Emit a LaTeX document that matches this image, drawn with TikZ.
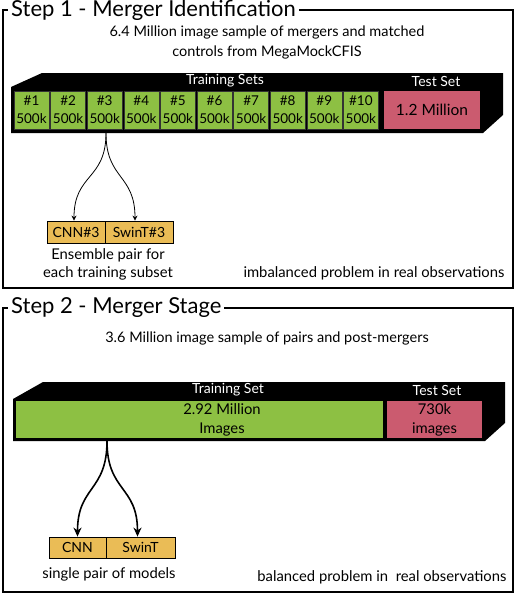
\documentclass[tikz,border=0pt]{standalone}
\usepackage{fontspec}
\setmainfont{Lato}
\usepackage{tikz}
\usetikzlibrary{arrows.meta,%
                shapes,positioning}
\definecolor{trainclr}{RGB}{141,192,67}
\definecolor{testclr}{RGB}{203,91,111}
\definecolor{modelclr}{RGB}{234,188,86}

\begin{document}
\begin{tikzpicture}[x=1pt,y=-1pt,
  frame/.style={draw=black,line width=1.6pt},
  steptitle/.style={anchor=west,fill=white,inner xsep=3pt,inner ysep=0pt,font=\fontsize{22}{24}\selectfont},
  sub/.style={align=center,font=\fontsize{14.5}{20}\selectfont},
  cell/.style={draw=black!80,fill=trainclr,line width=0.5pt,minimum width=35,minimum height=38,inner sep=0pt,align=center,font=\fontsize{13.5}{18}\selectfont},
  testbox/.style={fill=testclr,inner sep=0pt,align=center,font=\fontsize{15.5}{19}\selectfont},
  setlabel/.style={text=white,font=\fontsize{14}{15}\selectfont},
  model/.style={draw=black,fill=modelclr,line width=0.8pt,minimum height=22,inner sep=0pt,font=\fontsize{14}{15}\selectfont},
  note/.style={align=center,font=\fontsize{14.8}{18}\selectfont}]
\useasboundingbox (0,0) rectangle (520,594);

% step 1
\draw[frame] (3,10) rectangle (513,288);
\node[steptitle] (title1) at (8,10) {Step 1 - Merger Identification};
\node[sub] (sample1) at (267,42) {6.4 Million image sample of mergers and matched\\controls from MegaMockCFIS};
\fill[black] (11,133) -- (11,87) -- (42,73) -- (503,73) -- (503,115) -- (483,133) -- cycle;
\node[setlabel] (train1) at (225,81) {Training Sets};
\node[setlabel] (test1) at (436,81) {Test Set};
\node[cell] (c1) at (31.5,110) {\#1\\500k};
\node[cell] (c2) at (68.1,110) {\#2\\500k};
\node[cell] (c3) at (104.7,110) {\#3\\500k};
\node[cell] (c4) at (141.3,110) {\#4\\500k};
\node[cell] (c5) at (177.9,110) {\#5\\500k};
\node[cell] (c6) at (214.5,110) {\#6\\500k};
\node[cell] (c7) at (251.1,110) {\#7\\500k};
\node[cell] (c8) at (287.7,110) {\#8\\500k};
\node[cell] (c9) at (324.3,110) {\#9\\500k};
\node[cell] (c10) at (360.9,110) {\#10\\500k};
\node[testbox,minimum width=96,minimum height=38] (t1) at (432,110) {1.2 Million};
\node[model,minimum width=58] (cnn3) at (76,232) {CNN\#3};
\node[model,minimum width=68] (swin3) at (139,232) {SwinT\#3};
\coordinate (stem1) at (106,133);
\draw[line width=0.8pt,-{Stealth[length=5pt,width=5pt]}] (stem1) to[out=-90,in=90,looseness=1.3] ([xshift=-2]cnn3.north);
\draw[line width=0.8pt,-{Stealth[length=5pt,width=5pt]}] (stem1) to[out=-90,in=90,looseness=1.3] ([xshift=-4]swin3.north);
\node[note] (ens) at (108,264) {Ensemble pair for\\each training subset};
\node[note,anchor=east] (imb) at (508,273) {imbalanced problem in real observations};

% step 2
\draw[frame] (3,308) rectangle (513,592);
\node[steptitle] (title2) at (8,308) {Step 2 - Merger Stage};
\node[sub] (sample2) at (267,338) {3.6 Million image sample of pairs and post-mergers};
\fill[black] (13,441) -- (13,399) -- (43,382) -- (505,382) -- (505,423) -- (485,441) -- cycle;
\node[setlabel] (train2) at (228,390) {Training Set};
\node[setlabel] (test2) at (437,390) {Test Set};
\node[fill=trainclr,minimum width=367,minimum height=37,inner sep=0pt] (tr) at (199.5,419.5) {};
\node[align=center,font=\fontsize{14.8}{19}\selectfont] (trtext) at (222,420) {2.92 Million\\Images};
\node[testbox,minimum width=95,minimum height=37,font=\fontsize{14.8}{19}\selectfont] (t2) at (434.5,419.5) {730k\\images};
\node[model,minimum width=57,minimum height=21] (cnn) at (77.5,547.5) {CNN};
\node[model,minimum width=69,minimum height=21] (swin) at (140.5,547.5) {SwinT};
\coordinate (stem2) at (107,441);
\draw[line width=1.6pt,-{Stealth[length=9pt,width=8pt]}] (stem2) to[out=-90,in=90,looseness=1.3] (cnn.north);
\draw[line width=1.6pt,-{Stealth[length=9pt,width=8pt]}] (stem2) to[out=-90,in=90,looseness=1.3] ([xshift=-3]swin.north);
\node[note] (pair) at (109,574) {single pair of models};
\node[note,anchor=east] (bal) at (510,577) {balanced problem in \ real observations};
\end{tikzpicture}
\end{document}
